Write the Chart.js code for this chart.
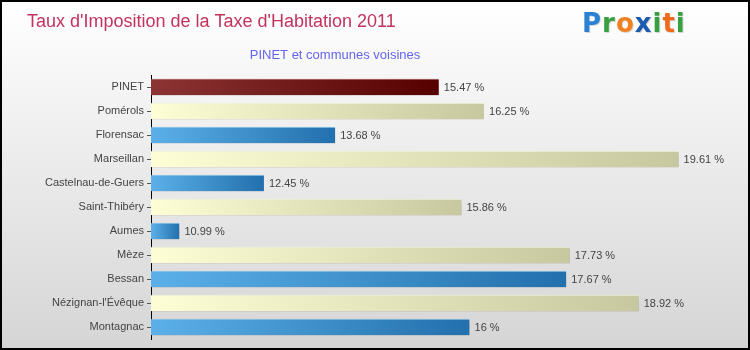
<!DOCTYPE html>
<html lang="fr">
<head>
    <meta charset="UTF-8">
    <title>Taux d'Imposition de la Taxe d'Habitation 2011</title>
    <script src="https://cdn.jsdelivr.net/npm/chart.js"></script>
    <style>
        html, body {
            margin: 0;
            padding: 0;
            background: #fff;
        }
        .frame {
            width: 750px;
            height: 350px;
            position: relative;
        }
    </style>
</head>
<body>
    <div class="frame">
        <canvas id="taxeChart" width="750" height="350"></canvas>
    </div>

    <script>
        // Données
        const communes = ['PINET', 'Pomérols', 'Florensac', 'Marseillan', 'Castelnau-de-Guers',
            'Saint-Thibéry', 'Aumes', 'Mèze', 'Bessan', 'Nézignan-l\'Évêque', 'Montagnac'];
        const taux = [15.47, 16.25, 13.68, 19.61, 12.45, 15.86, 10.99, 17.73, 17.67, 18.92, 16];
        const tauxLabels = ['15.47 %', '16.25 %', '13.68 %', '19.61 %', '12.45 %', '15.86 %',
            '10.99 %', '17.73 %', '17.67 %', '18.92 %', '16 %'];
        const axeMin = 10.5;
        const axeMax = 20.67;

        const FONT = '"Liberation Sans", Arial, sans-serif';

        // couleurs des dégradés : [début, fin, bordure]
        const palettes = {
            main: ['#8c3434', '#560000', '#9a4a4a'],
            cream: ['#fdfdd6', '#c8c8a0', '#f4f4dc'],
            blue: ['#5cb0ea', '#2270ad', '#7cc0f0']
        };
        function paletteFor(i) {
            if (i === 0) return palettes.main;
            return i % 2 === 1 ? palettes.cream : palettes.blue;
        }

        function barGradient(ctx, idx, which) {
            const chart = ctx.chart;
            const pal = paletteFor(idx);
            if (!chart.chartArea || !chart.scales.x) return pal[which];
            const x0 = chart.scales.x.getPixelForValue(axeMin);
            const x1 = chart.scales.x.getPixelForValue(taux[idx]);
            const g = chart.ctx.createLinearGradient(x0, 0, x1, 0);
            g.addColorStop(0, pal[0]);
            g.addColorStop(1, pal[1]);
            return g;
        }

        const decor = {
            id: 'decor',
            beforeDraw(chart) {
                const c = chart.ctx;
                const bg = c.createLinearGradient(0, 0, 0, chart.height);
                bg.addColorStop(0, '#ffffff');
                bg.addColorStop(1, '#d5d5d5');
                c.save();
                c.fillStyle = bg;
                c.fillRect(0, 0, chart.width, chart.height);

                c.textBaseline = 'middle';
                c.fillStyle = '#c4325e';
                c.font = '18px ' + FONT;
                c.textAlign = 'left';
                c.fillText('Taux d\'Imposition de la Taxe d\'Habitation 2011', 27, 22);

                c.fillStyle = '#6464ee';
                c.font = '13px ' + FONT;
                c.textAlign = 'center';
                c.fillText('PINET et communes voisines', 335, 55);

                // logo Proxiti
                const lettres = ['P', 'r', 'o', 'x', 'i', 't', 'i'];
                const couleurs = ['#2a80d2', '#38a040', '#f08020', '#1c5cb0', '#38a040', '#f06a1a', '#38a040'];
                c.font = 'bold 26px "DejaVu Sans", sans-serif';
                c.textAlign = 'left';
                let x = 582;
                lettres.forEach((l, i) => {
                    c.fillStyle = 'rgba(0,0,0,0.15)';
                    c.fillText(l, x + 1, 26);
                    c.fillStyle = couleurs[i];
                    c.fillText(l, x, 25);
                    x += c.measureText(l).width + 1;
                });
                c.restore();
            },
            beforeDatasetsDraw(chart) {
                const c = chart.ctx;
                c.save();
                c.shadowColor = 'rgba(0,0,0,0.25)';
                c.shadowOffsetX = 2;
                c.shadowOffsetY = 2;
                c.shadowBlur = 2;
            },
            afterDatasetsDraw(chart) {
                const c = chart.ctx;
                c.restore();
                const meta = chart.getDatasetMeta(0);
                c.save();
                c.font = '11px ' + FONT;
                c.fillStyle = '#444';
                c.textAlign = 'left';
                c.textBaseline = 'middle';
                meta.data.forEach((bar, i) => {
                    c.fillText(tauxLabels[i], bar.x + 5, bar.y + 1);
                });
                c.restore();
            },
            afterDraw(chart) {
                const c = chart.ctx;
                c.save();
                c.strokeStyle = '#000';
                c.lineWidth = 2;
                c.strokeRect(1, 1, chart.width - 2, chart.height - 2);
                c.restore();
            }
        };

        new Chart(document.getElementById('taxeChart'), {
            type: 'bar',
            data: {
                labels: communes,
                datasets: [{
                    data: taux,
                    backgroundColor: (ctx) => barGradient(ctx, ctx.dataIndex, 0),
                    borderColor: (ctx) => paletteFor(ctx.dataIndex)[2],
                    borderWidth: { top: 1, left: 0, right: 0, bottom: 0 },
                    borderSkipped: false,
                    barPercentage: 0.68,
                    categoryPercentage: 1.0
                }]
            },
            options: {
                indexAxis: 'y',
                responsive: false,
                animation: false,
                layout: {
                    padding: { top: 75, right: 10, bottom: 11, left: 0 }
                },
                plugins: {
                    legend: { display: false },
                    tooltip: { enabled: false }
                },
                scales: {
                    x: {
                        display: false,
                        min: axeMin,
                        max: axeMax
                    },
                    y: {
                        afterFit(scale) { scale.width = 151; },
                        border: { display: true, color: '#000', width: 1 },
                        grid: {
                            offset: false,
                            drawOnChartArea: false,
                            tickLength: 4,
                            color: '#555'
                        },
                        ticks: {
                            padding: 3,
                            color: '#444',
                            font: { family: FONT, size: 11 }
                        }
                    }
                }
            },
            plugins: [decor]
        });
    </script>
</body>
</html>
